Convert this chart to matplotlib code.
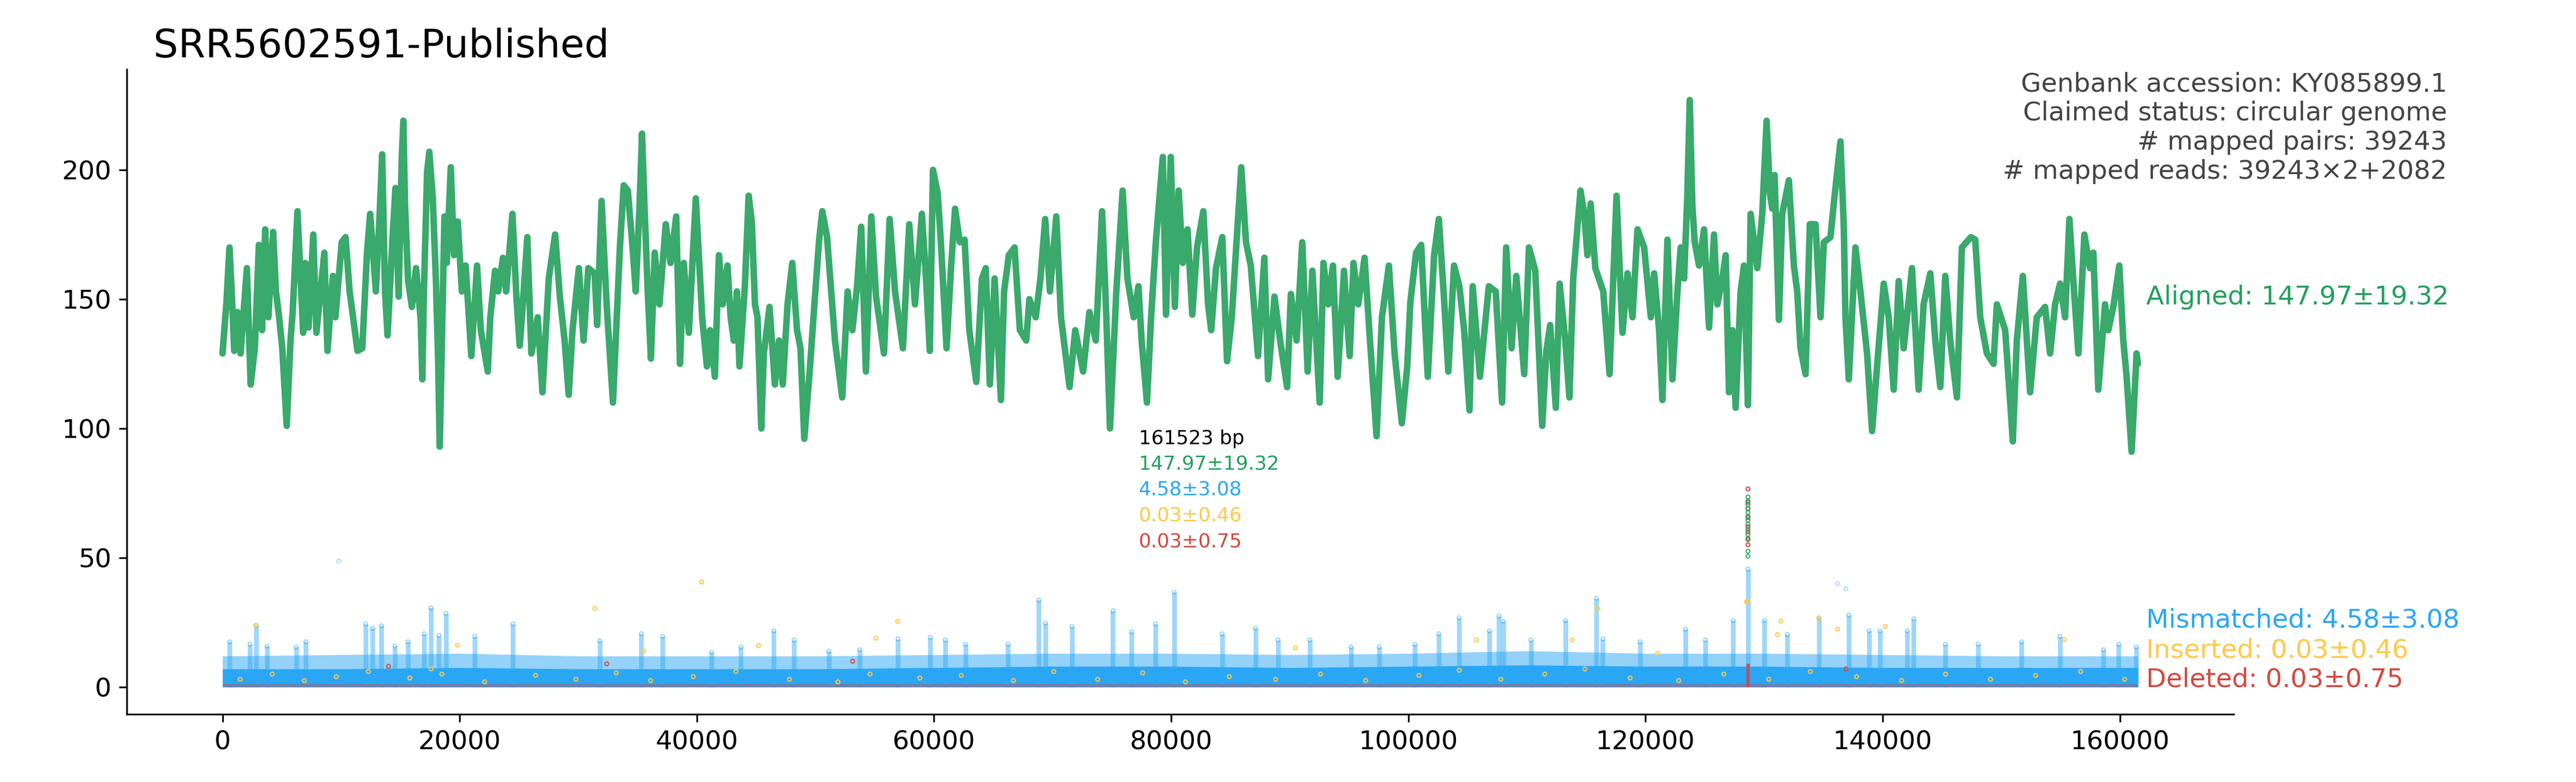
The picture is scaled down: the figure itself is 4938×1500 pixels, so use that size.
import matplotlib
matplotlib.use("Agg")
import matplotlib.pyplot as plt

# ---------------- data ----------------
GENOME_LEN = 161523
title_text = "SRR5602591-Published"
info_lines = ["Genbank accession: KY085899.1",
              "Claimed status: circular genome",
              "# mapped pairs: 39243",
              "# mapped reads: 39243\u00d72+2082"]
stat_labels = ["161523 bp", "147.97\u00b119.32", "4.58\u00b13.08", "0.03\u00b10.46", "0.03\u00b10.75"]
series_names = ["Aligned", "Mismatched", "Inserted", "Deleted"]
series_stats = ["147.97\u00b119.32", "4.58\u00b13.08", "0.03\u00b10.46", "0.03\u00b10.75"]

# aligned coverage: turning points (position bp, depth)
aligned_pos = [0, 322, 589, 776, 989, 1255, 1522, 2055, 2375, 2722, 3068, 3335, 3601, 3868, 4268, 4508, 4775, 5041, 5414, 5734,
               5921, 6321, 6641, 6801, 6987, 7254, 7654, 7920, 8587, 8854, 9307, 9520, 10053, 10373, 10720, 11386, 11786, 12186, 12453, 12933,
               13252, 13466, 13706, 13919, 14319, 14585, 14852, 15119, 15252, 15385, 15652, 15972, 16319, 16718, 16852, 16985, 17252, 17439, 17732, 17998,
               18185, 18318, 18505, 18718, 18905, 19251, 19518, 19838, 20184, 20504, 20984, 21464, 21784, 22370, 22583, 22983, 23250, 23650, 23916, 24450,
               24796, 25063, 25249, 25702, 26049, 26582, 26982, 27515, 28049, 28449, 28849, 29195, 29515, 30048, 30448, 30848, 31381, 31595, 31968, 32394,
               32927, 33247, 33514, 33834, 34181, 34580, 34847, 35167, 35380, 35594, 35860, 36127, 36447, 36847, 37380, 37780, 38260, 38580, 38900, 39326,
               39912, 40450, 40850, 41117, 41517, 41863, 42183, 42583, 42850, 43117, 43383, 43596, 44050, 44369, 44636, 44903, 45116, 45436, 45649, 46129,
               46582, 46929, 47249, 47649, 48049, 48449, 48742, 49062, 49515, 49915, 50315, 50582, 50982, 51248, 51648, 52262, 52714, 53114, 53514, 53860,
               54260, 54714, 55114, 55514, 55780, 56260, 56713, 57380, 57913, 58393, 58980, 59327, 59646, 59913, 60313, 60580, 61060, 61431, 61778, 62178,
               62578, 62978, 63565, 64044, 64364, 64711, 65111, 65644, 65911, 66311, 66791, 67244, 67777, 68044, 68577, 68977, 69377, 69777, 70310, 70710,
               71430, 71910, 72576, 73109, 73642, 74175, 74495, 74842, 75375, 75908, 76308, 76842, 77242, 77508, 77961, 78307, 78707, 79294, 79567, 79967,
               80313, 80633, 80980, 81380, 81780, 82180, 82713, 83112, 83379, 83779, 84312, 84712, 85112, 85512, 85912, 86312, 86712, 87324, 87858, 88178,
               88711, 89191, 89777, 90097, 90577, 91057, 91510, 91910, 92523, 92843, 93243, 93643, 94043, 94576, 95056, 95376, 95776, 96309, 96709, 97322,
               97775, 98362, 98842, 99455, 99908, 100175, 100655, 101081, 101641, 102174, 102574, 102974, 103374, 103854, 104307, 104707, 105160, 105427, 106040, 106787,
               107373, 107906, 108253, 108706, 109106, 109773, 110173, 110706, 111292, 111639, 111959, 112438, 112758, 113238, 113585, 113905, 114518, 114838, 115105, 115371,
               115771, 116438, 116971, 117558, 118063, 118484, 118905, 119326, 119887, 120448, 120729, 121150, 121430, 121851, 122272, 122693, 122973, 123254, 123535, 123731,
               123955, 124152, 124517, 124938, 125359, 125779, 126060, 126481, 126762, 127042, 127323, 127603, 128024, 128305, 128642, 128866, 129427, 129848, 130213, 130493,
               130690, 130886, 131251, 131532, 132093, 132514, 132794, 133075, 133496, 133861, 134338, 134759, 135039, 135600, 135881, 136442, 136723, 136863, 137144, 137705,
               138126, 138687, 139108, 139529, 140090, 140511, 140932, 141353, 141774, 142475, 143036, 143457, 144018, 144439, 144860, 145281, 145702, 146263, 146684, 147442,
               147806, 148227, 148789, 149350, 149630, 150332, 150697, 150977, 151314, 151819, 152436, 152997, 153699, 154120, 154541, 154962, 155383, 155748, 156141, 156506,
               157011, 157488, 157768, 158189, 158750, 159030, 159451, 159957, 160293, 160574, 160995, 161415, 161523]
aligned_cov = [129, 148, 170, 153, 130, 145, 129, 162, 117, 131, 171, 138, 177, 143, 176, 153, 143, 131, 101, 134,
               145, 184, 153, 137, 164, 139, 175, 137, 168, 130, 159, 143, 172, 174, 153, 130, 131, 168, 183, 153,
               183, 206, 153, 136, 172, 193, 151, 205, 219, 187, 157, 147, 162, 142, 119, 153, 199, 207, 189, 157,
               126, 93, 134, 182, 164, 201, 167, 180, 153, 163, 128, 163, 138, 122, 143, 161, 153, 166, 153, 183,
               150, 132, 143, 174, 129, 143, 114, 158, 175, 151, 134, 113, 138, 162, 134, 162, 160, 140, 188, 148,
               110, 143, 170, 194, 192, 170, 153, 186, 214, 185, 153, 127, 168, 148, 179, 164, 182, 125, 164, 137,
               189, 143, 124, 138, 120, 167, 148, 163, 143, 134, 153, 124, 155, 190, 180, 148, 143, 100, 129, 147,
               117, 134, 117, 148, 164, 138, 131, 96, 122, 148, 173, 184, 174, 158, 134, 112, 153, 138, 155, 178,
               122, 182, 151, 138, 129, 181, 153, 131, 179, 148, 183, 158, 130, 200, 191, 172, 131, 162, 185, 172,
               173, 138, 118, 158, 162, 117, 158, 111, 153, 167, 170, 138, 134, 150, 143, 158, 181, 153, 182, 143,
               116, 138, 122, 145, 134, 184, 148, 100, 153, 192, 158, 143, 155, 134, 110, 143, 172, 205, 144, 205,
               147, 192, 164, 177, 144, 170, 184, 148, 138, 162, 174, 126, 143, 172, 201, 172, 163, 128, 166, 119,
               151, 134, 116, 152, 134, 172, 122, 161, 110, 164, 148, 163, 120, 161, 128, 164, 148, 166, 138, 97,
               143, 163, 129, 102, 124, 149, 168, 171, 120, 167, 181, 153, 122, 163, 155, 138, 107, 155, 120, 155,
               153, 110, 170, 131, 159, 121, 170, 161, 101, 130, 140, 108, 156, 134, 112, 158, 192, 183, 167, 187,
               162, 153, 121, 190, 137, 160, 143, 177, 170, 143, 160, 138, 111, 173, 119, 153, 170, 158, 191, 227,
               186, 172, 163, 177, 139, 175, 148, 158, 167, 114, 138, 108, 153, 163, 109, 183, 162, 183, 219, 191,
               185, 198, 142, 183, 196, 163, 153, 131, 121, 179, 179, 143, 172, 174, 187, 211, 178, 143, 119, 170,
               153, 129, 99, 124, 156, 143, 115, 157, 131, 162, 115, 148, 160, 134, 116, 159, 134, 112, 170, 174,
               173, 143, 129, 125, 148, 138, 114, 95, 134, 159, 114, 143, 147, 129, 148, 156, 143, 181, 153, 129,
               175, 162, 168, 115, 148, 138, 147, 163, 134, 120, 91, 129, 125]
# isolated low aligned depths at the deletion hotspot
aligned_dip_pos = [128640] * 13
aligned_dip_cov = [73.5, 72, 70.5, 69, 67.5, 66, 64.5, 63, 61, 59, 57, 52.5, 50.6]

# mismatch: dense band envelope and spikes
mm_env_pos = [0, 10000, 20000, 30000, 40000, 50000, 60000, 70000, 80000, 90000, 100000,
              110000, 120000, 130000, 140000, 150000, 160000, 161523]
mm_solid_top = [7.0, 7.0, 7.5, 7.0, 7.0, 7.0, 7.5, 8.0, 8.0, 7.5, 8.0, 8.5, 8.0, 8.0, 7.5, 7.5, 7.5, 7.5]
mm_light_top = [12.0, 12.5, 13.0, 12.0, 12.0, 12.0, 12.5, 13.0, 13.0, 12.5, 13.0, 14.0, 13.0, 13.0, 12.5, 12.0, 12.0, 12.0]
mm_spike_pos = [609, 2315, 2854, 3750, 6220, 7030, 12058, 12640, 13405, 14530, 15650, 17000, 17580, 18255, 18840,
                21265, 24500, 31815, 35316, 37112, 41243, 43713, 46497, 48200, 51120, 53725, 56958, 59686, 60943,
                62649, 66240, 68845, 69384, 71629, 75086, 76658, 78678, 80250, 84291, 87120, 89005, 91700, 95157,
                97537, 100545, 102565, 104272, 106830, 107640, 108000, 110333, 113250, 115853, 116400, 119530,
                123355, 125060, 127400, 128640, 130030, 131960, 134620, 137150, 138850, 139770, 142070, 142620,
                145290, 148050, 151720, 154940, 158620, 159910, 161380]
mm_spike_top = [17.5, 16.5, 23.7, 15.8, 15.5, 17.5, 24.4, 22.7, 23.7, 15.8, 17.5, 20.6, 30.6, 20.0, 28.5,
                19.6, 24.4, 17.9, 20.6, 19.6, 13.4, 15.5, 21.7, 18.2, 13.8, 14.4, 18.6, 19.2, 18.2,
                16.5, 16.5, 33.6, 24.7, 23.4, 29.5, 21.3, 24.4, 36.7, 20.6, 22.7, 18.2, 18.2, 15.5,
                15.5, 16.5, 20.6, 26.8, 21.7, 27.4, 25.4, 18.2, 25.7, 34.3, 18.6, 17.5,
                22.3, 18.2, 25.7, 45.6, 25.7, 20.3, 26.8, 27.8, 21.7, 21.7, 21.7, 26.4,
                16.5, 16.5, 17.5, 19.6, 14.4, 16.5, 15.5]
mm_outlier_pos = [9800, 136190, 136900]
mm_outlier_cov = [48.7, 40.0, 38.0]

# insertions: scattered points
ins_pos = [2800, 19820, 31400, 35500, 40400, 45200, 55100, 56930, 90485, 105750, 113790, 115990, 121020,
           128520, 128600, 131130, 131400, 134620, 136190, 140230, 155310,
           1500, 4200, 6900, 9600, 12300, 15800, 17600, 18500, 22100, 26400, 29800, 33200, 36100, 39700,
           43300, 47800, 51900, 54600, 58800, 62300, 66700, 70100, 73800, 77600, 81200, 84900, 88800, 92600,
           96400, 100900, 104300, 107800, 111500, 114900, 118700, 122800, 126600, 130400, 133900, 137800,
           141600, 145300, 149100, 152900, 156700, 160400]
ins_cov = [23.9, 16.2, 30.4, 14.0, 40.6, 16.0, 18.9, 25.4, 15.1, 18.2, 18.2, 30.4, 13.0,
           33.0, 33.3, 20.3, 25.5, 26.5, 22.4, 23.4, 18.3,
           3, 5, 2.5, 4, 6, 3.5, 7, 5, 2, 4.5, 3, 5.5, 2.5, 4,
           6, 3, 2, 5, 3.5, 4.5, 2.5, 6, 3, 5.5, 2, 4, 3, 5,
           2.5, 4.5, 6.5, 3, 5, 7, 3.5, 2.5, 5, 3, 6, 4,
           2.5, 5, 3, 4.5, 6, 3]
indel_floor_top = 1.2
# deletions: hotspot column and a few scattered points
del_pos = [128640, 128640, 128640, 128640, 128640, 128640, 128640, 128640, 53140, 32400, 14000, 136900]
del_cov = [76.6, 71.4, 69.0, 65.5, 62.0, 60.0, 57.5, 55.0, 10.0, 9.0, 8.0, 7.0]
del_hotspot_pos = [128640]
del_hotspot_top = [9.0]

# ---------------- style ----------------
GREEN = "#23a05c"
BLUE = "#2aa7f4"
YELLOW = "#ffc94a"
RED = "#d4493f"
GRAY = "#444444"

fig = plt.figure(figsize=(16.46, 5.0), dpi=300)
ax = fig.add_axes([0.0492, 0.0867, 0.8179, 0.8247])

# mismatch layer
ax.fill_between(mm_env_pos, 0, mm_light_top, color=BLUE, alpha=0.5, lw=0, zorder=1)
ax.fill_between(mm_env_pos, 0, mm_solid_top, color=BLUE, alpha=1.0, lw=0, zorder=2)
ax.vlines(mm_spike_pos, 0, mm_spike_top, color=BLUE, alpha=0.45, lw=2.2, zorder=2)
ax.scatter(mm_spike_pos, mm_spike_top, s=3, facecolors="none", edgecolors=BLUE, linewidths=0.5, alpha=0.5, zorder=3)
ax.scatter(mm_outlier_pos, mm_outlier_cov, s=3, facecolors="none", edgecolors=BLUE, linewidths=0.5, alpha=0.4, zorder=3)

# indel layers
ax.fill_between([0, GENOME_LEN], 0, [indel_floor_top, indel_floor_top], color=RED, alpha=0.4, lw=0, zorder=3)
ax.scatter(ins_pos, ins_cov, s=3, facecolors="none", edgecolors=YELLOW, linewidths=0.6, alpha=0.9, zorder=4)
ax.vlines(del_hotspot_pos, 0, del_hotspot_top, color=RED, alpha=0.9, lw=1.5, zorder=4)
ax.scatter(del_pos, del_cov, s=3, facecolors="none", edgecolors=RED, linewidths=0.6, alpha=0.9, zorder=4)

# aligned layer
ax.plot(aligned_pos, aligned_cov, color=GREEN, lw=3.0, alpha=0.9, solid_joinstyle="round",
        solid_capstyle="round", zorder=5)
ax.scatter(aligned_dip_pos, aligned_dip_cov, s=3, facecolors="none", edgecolors=GREEN, linewidths=0.6, alpha=0.8, zorder=6)

# axes
ax.set_xlim(-0.05 * GENOME_LEN, 1.05 * GENOME_LEN)
ax.set_ylim(-10.5, 238.9)
ax.set_xticks(range(0, 160001, 20000))
ax.set_yticks(range(0, 201, 50))
ax.tick_params(labelsize=12)
ax.spines["top"].set_visible(False)
ax.spines["right"].set_visible(False)

# series labels at right
label_x = GENOME_LEN + 690
ax.text(label_x, 147.97, f"{series_names[0]}: {series_stats[0]}", color=GREEN, fontsize=12, va="baseline", ha="left")
ax.text(label_x, 23.0, f"{series_names[1]}: {series_stats[1]}", color=BLUE, fontsize=12, va="baseline", ha="left")
ax.text(label_x, 11.3, f"{series_names[2]}: {series_stats[2]}", color=YELLOW, fontsize=12, va="baseline", ha="left")
ax.text(label_x, 0.03, f"{series_names[3]}: {series_stats[3]}", color=RED, fontsize=12, va="baseline", ha="left")

# central statistics block
stat_colors = ["black", GREEN, BLUE, YELLOW, RED]
stat_y = [94, 84, 74, 64, 54]
for txt, col, yy in zip(stat_labels, stat_colors, stat_y):
    ax.text(77250, yy, txt, color=col, fontsize=9, va="baseline", ha="left")

# title and info
fig.text(294 / 4938, 1 - 110 / 1500, title_text, fontsize=18, va="baseline", ha="left")
for i, line in enumerate(info_lines):
    fig.text(4691 / 4938, 1 - (175 + 56 * i) / 1500, line, fontsize=12, color=GRAY, va="baseline", ha="right")

fig.savefig("out.png", dpi=300)
